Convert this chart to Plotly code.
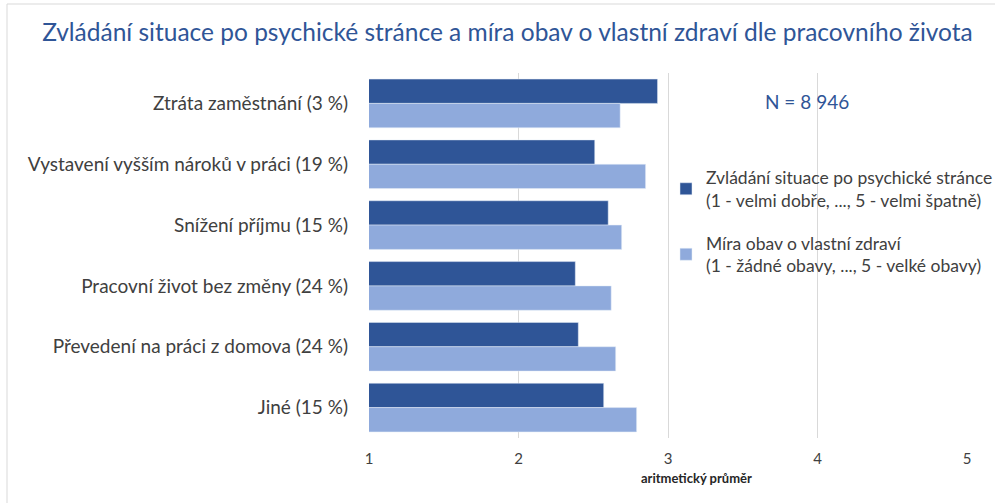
import plotly.graph_objects as go

categories = ["Ztráta zaměstnání (3 %)", "Vystavení vyšším nároků v práci (19 %)", "Snížení příjmu (15 %)",
              "Pracovní život bez změny (24 %)", "Převedení na práci z domova (24 %)", "Jiné (15 %)"]
zvladani = [2.93, 2.51, 2.60, 2.38, 2.40, 2.57]
obavy = [2.68, 2.85, 2.69, 2.62, 2.65, 2.79]
series_names = ["Zvládání situace po psychické stránce<br>(1 - velmi dobře, ..., 5 - velmi špatně)",
                "Míra obav o vlastní zdraví<br>(1 - žádné obavy, ..., 5 - velké obavy)"]
tick_vals = [1, 2, 3, 4, 5]

FONT = "Lato"
fig = go.Figure()
fig.add_trace(go.Bar(y=categories, x=zvladani, orientation="h", name=series_names[0],
                     legendgroup="a", marker=dict(color="#2F5597")))
fig.add_trace(go.Bar(y=categories, x=obavy, orientation="h", name=series_names[1],
                     legendgroup="b", marker=dict(color="#8FAADC")))

fig.update_layout(
    width=995, height=503,
    barmode="group", bargap=0.2, bargroupgap=0,
    paper_bgcolor="white", plot_bgcolor="white",
    margin=dict(l=369, r=28, t=73, b=65, autoexpand=False),
    font=dict(family=FONT, color="#404040", size=16),
    title=dict(text="Zvládání situace po psychické stránce a míra obav o vlastní zdraví dle pracovního života",
               font=dict(family=FONT, size=24.5, color="#2F5597"),
               x=0.51, xref="container", xanchor="center", y=1 - 32 / 503, yref="container", yanchor="middle"),
    legend=dict(x=(666 - 369) / 598, y=0.763, xanchor="left", yanchor="top",
                font=dict(size=17.5, color="#404040"), traceorder="grouped",
                tracegroupgap=17, itemwidth=30, bgcolor="rgba(0,0,0,0)"),
    xaxis=dict(range=[1, 5], tickvals=tick_vals, showgrid=True, gridcolor="#D9D9D9", zeroline=False,
               tickfont=dict(size=15, color="#404040"), ticklabelstandoff=10, fixedrange=True),
    yaxis=dict(autorange="reversed", tickfont=dict(size=19, color="#404040"), ticklabelstandoff=20,
               showgrid=False, showline=False, fixedrange=True),
    annotations=[
        dict(text="N = 8 946", xref="paper", yref="paper", x=0.732, y=0.921, xanchor="center",
             yanchor="middle", showarrow=False, font=dict(size=19, color="#2F5597", family=FONT)),
        dict(text="<b>aritmetický průměr</b>", xref="paper", yref="paper", x=(696 - 369) / 598,
             y=-(478 - 438) / 365, xanchor="center", yanchor="middle", showarrow=False,
             font=dict(size=13, color="#262626", family=FONT)),
    ],
    shapes=[dict(type="rect", xref="paper", yref="paper", x0=(7 - 369) / 598, x1=1.2,
                 y0=-0.4, y1=1 + (73 - 4) / 365, line=dict(color="#D9D9D9", width=1), layer="below")],
)
fig.write_html("out.html", config={"displayModeBar": False},
               post_script="document.body.style.margin='0';document.body.style.overflow='hidden';")
